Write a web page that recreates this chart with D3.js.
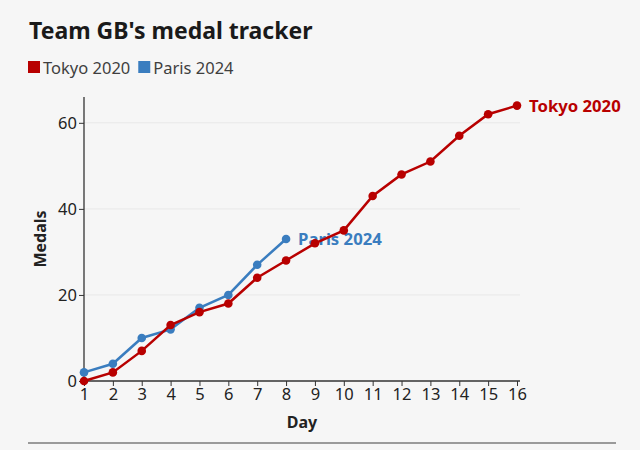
<!DOCTYPE html>
<html><head><meta charset="utf-8">
<script src="https://cdn.jsdelivr.net/npm/d3@7"></script>
<style>
html,body{margin:0;padding:0;background:#f6f6f6;}
svg{display:block;font-family:"Noto Sans","Open Sans",sans-serif;}
</style></head>
<body><svg id="c" width="640" height="450"></svg>
<script>
const days = [1,2,3,4,5,6,7,8,9,10,11,12,13,14,15,16];
const tokyo = [0,2,7,13,16,18,24,28,32,35,43,48,51,57,62,64];
const paris = [2,4,10,12,17,20,27,33];
const yTicks = [0,20,40,60];
const seriesNames = ["Tokyo 2020","Paris 2024"];
const colors = {"Tokyo 2020":"#b80000","Paris 2024":"#3a7dbf"};

const svg = d3.select("#c");
svg.append("rect").attr("width",640).attr("height",450).attr("fill","#f6f6f6");

svg.append("text").attr("x",29).attr("y",39).text("Team GB's medal tracker")
  .attr("font-size",23).attr("font-weight",700).attr("fill","#1a1a1a");

// legend
let lx = 28;
seriesNames.forEach(n=>{
  svg.append("rect").attr("x",lx).attr("y",61).attr("width",12).attr("height",12).attr("fill",colors[n]);
  const t = svg.append("text").attr("x",lx+15).attr("y",74).text(n)
    .attr("font-size",16.5).attr("fill","#3f3f3f");
  lx += 15 + t.node().getComputedTextLength() + 8;
});

const x = d3.scaleLinear().domain([1,16]).range([84,517]);
const y = d3.scaleLinear().domain([0,66]).range([381,97]);

// gridlines
svg.append("g").selectAll("line").data(yTicks.filter(d=>d>0)).join("line")
  .attr("x1",84).attr("x2",520).attr("y1",d=>y(d)).attr("y2",d=>y(d))
  .attr("stroke","#e8e8e8").attr("stroke-width",1);

// axes
const yAxis = svg.append("g").attr("transform","translate(84,0)")
  .call(d3.axisLeft(y).tickValues(yTicks).tickSize(5).tickPadding(2));
const xAxis = svg.append("g").attr("transform","translate(0,381)")
  .call(d3.axisBottom(x).tickValues(days).tickSize(5).tickPadding(2));
[yAxis,xAxis].forEach(a=>{
  a.select(".domain").remove();
  a.selectAll("line").attr("stroke","#333");
  a.selectAll("text").attr("font-size",16.5).attr("fill","#222")
   .attr("font-family","'Noto Sans','Open Sans',sans-serif");
});
svg.append("line").attr("x1",84).attr("x2",84).attr("y1",97).attr("y2",381).attr("stroke","#333").attr("stroke-width",1.3);
svg.append("line").attr("x1",82).attr("x2",520).attr("y1",381).attr("y2",381).attr("stroke","#333").attr("stroke-width",1.3);

svg.append("text").attr("transform","translate(46,239) rotate(-90)").attr("text-anchor","middle")
  .text("Medals").attr("font-size",16).attr("font-weight",700).attr("fill","#222");
svg.append("text").attr("x",302).attr("y",428).attr("text-anchor","middle")
  .text("Day").attr("font-size",16).attr("font-weight",700).attr("fill","#222");

svg.append("line").attr("x1",28).attr("x2",616).attr("y1",443).attr("y2",443).attr("stroke","#9a9a9a").attr("stroke-width",2);

const line = d3.line().x(d=>x(d[0])).y(d=>y(d[1]));
function drawSeries(vals, color){
  const pts = vals.map((v,i)=>[days[i],v]);
  svg.append("path").datum(pts).attr("d",line).attr("fill","none")
    .attr("stroke",color).attr("stroke-width",2.5);
  svg.append("g").selectAll("circle").data(pts).join("circle")
    .attr("cx",d=>x(d[0])).attr("cy",d=>y(d[1])).attr("r",4.3).attr("fill",color);
  return pts;
}
const pp = drawSeries(paris, colors["Paris 2024"]);
const lastP = pp[pp.length-1];
svg.append("text").attr("x",x(lastP[0])+12).attr("y",y(lastP[1])+6).text("Paris 2024")
  .attr("font-size",16.7).attr("font-weight",700).attr("fill",colors["Paris 2024"]);
const tp = drawSeries(tokyo, colors["Tokyo 2020"]);
const lastT = tp[tp.length-1];
svg.append("text").attr("x",x(lastT[0])+12).attr("y",y(lastT[1])+6).text("Tokyo 2020")
  .attr("font-size",16.7).attr("font-weight",700).attr("fill",colors["Tokyo 2020"]);
</script></body></html>
